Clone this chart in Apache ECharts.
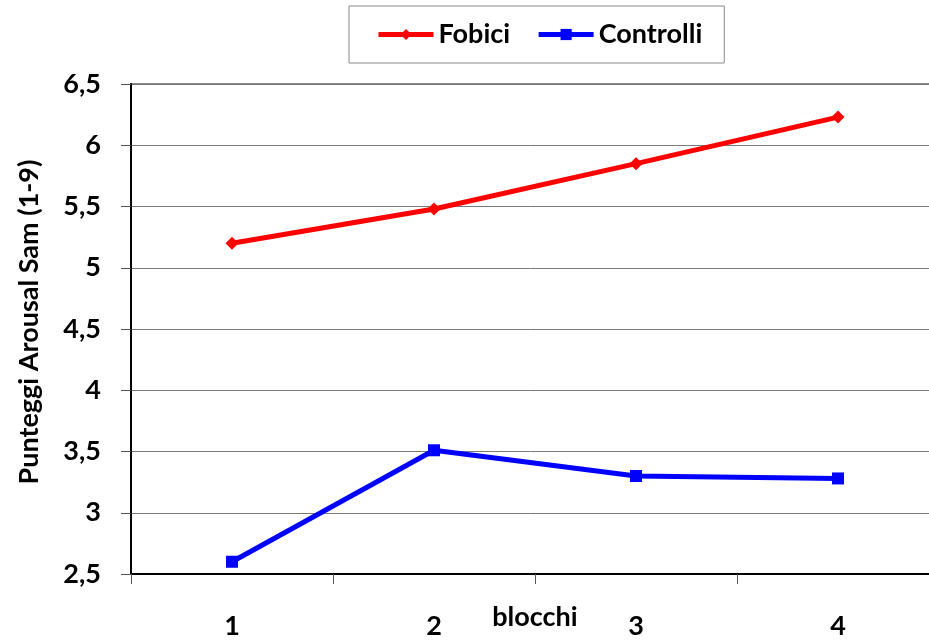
<!DOCTYPE html>
<html>
<head>
<meta charset="utf-8">
<script src="https://cdn.jsdelivr.net/npm/echarts@6/dist/echarts.min.js"></script>
<style>html,body{margin:0;padding:0;background:#fff}#c{width:929px;height:641px}</style>
</head>
<body>
<div id="c"></div>
<script>
const categories = ['1', '2', '3', '4'];
const fobici = [5.2, 5.48, 5.85, 6.23];
const controlli = [2.6, 3.51, 3.3, 3.28];
const yTicks = ['2,5', '3', '3,5', '4', '4,5', '5', '5,5', '6', '6,5'];

const font = 'Lato, "Open Sans", sans-serif';
const fs = 27;
const chart = echarts.init(document.getElementById('c'));
chart.setOption({
  animation: false,
  textStyle: { fontFamily: font },
  grid: { left: 131, top: 84, width: 808, height: 490, show: true, borderColor: '#8a8a8a', borderWidth: 2,
    containLabel: false, outerBoundsMode: 'none' },
  legend: {
    left: 349, top: 6,
    padding: [15, 22, 15, 27],
    borderColor: '#8a8a8a', borderWidth: 1,
    itemWidth: 55, itemHeight: 14, itemGap: 26,
    lineStyle: { width: 5 },
    textStyle: { fontSize: fs, fontWeight: 'bold', color: '#000', fontFamily: font },
    data: ['Fobici', 'Controlli']
  },
  xAxis: {
    type: 'category', data: categories, boundaryGap: true,
    name: 'blocchi', nameLocation: 'middle', nameGap: 30, nameMoveOverlap: false,
    nameTextStyle: { fontSize: fs, fontWeight: 'bold', color: '#000', fontFamily: font },
    axisLine: { lineStyle: { color: '#000', width: 2 } },
    axisTick: { show: true, length: 10, lineStyle: { color: '#555', width: 1 } },
    axisLabel: { fontSize: fs, fontWeight: 'bold', color: '#000', margin: 39, fontFamily: font },
    splitLine: { show: false }
  },
  yAxis: {
    type: 'value', min: 2.5, max: 6.5, interval: 0.5,
    name: 'Punteggi Arousal Sam (1-9)', nameLocation: 'middle', nameGap: 88, nameRotate: 90,
    nameMoveOverlap: false,
    nameTextStyle: { fontSize: 27, fontWeight: 'bold', color: '#000', fontFamily: font, padding: [0, 0, 0, 14] },
    axisLine: { show: true, lineStyle: { color: '#000', width: 2 } },
    axisTick: { show: true, length: 10, lineStyle: { color: '#555', width: 1 } },
    axisLabel: { fontSize: fs, fontWeight: 'bold', color: '#000', margin: 30, fontFamily: font,
      formatter: v => yTicks[Math.round((v - 2.5) / 0.5)] },
    splitLine: { show: true, lineStyle: { color: '#7a7a7a', width: 1 } }
  },
  series: [
    { name: 'Fobici', type: 'line', data: fobici, symbol: 'diamond', symbolSize: 13,
      lineStyle: { color: '#ff0000', width: 5 }, itemStyle: { color: '#ff0000' } },
    { name: 'Controlli', type: 'line', data: controlli, symbol: 'rect', symbolSize: 12,
      lineStyle: { color: '#0000ff', width: 5 }, itemStyle: { color: '#0000ff' } }
  ]
});
</script>
</body>
</html>
